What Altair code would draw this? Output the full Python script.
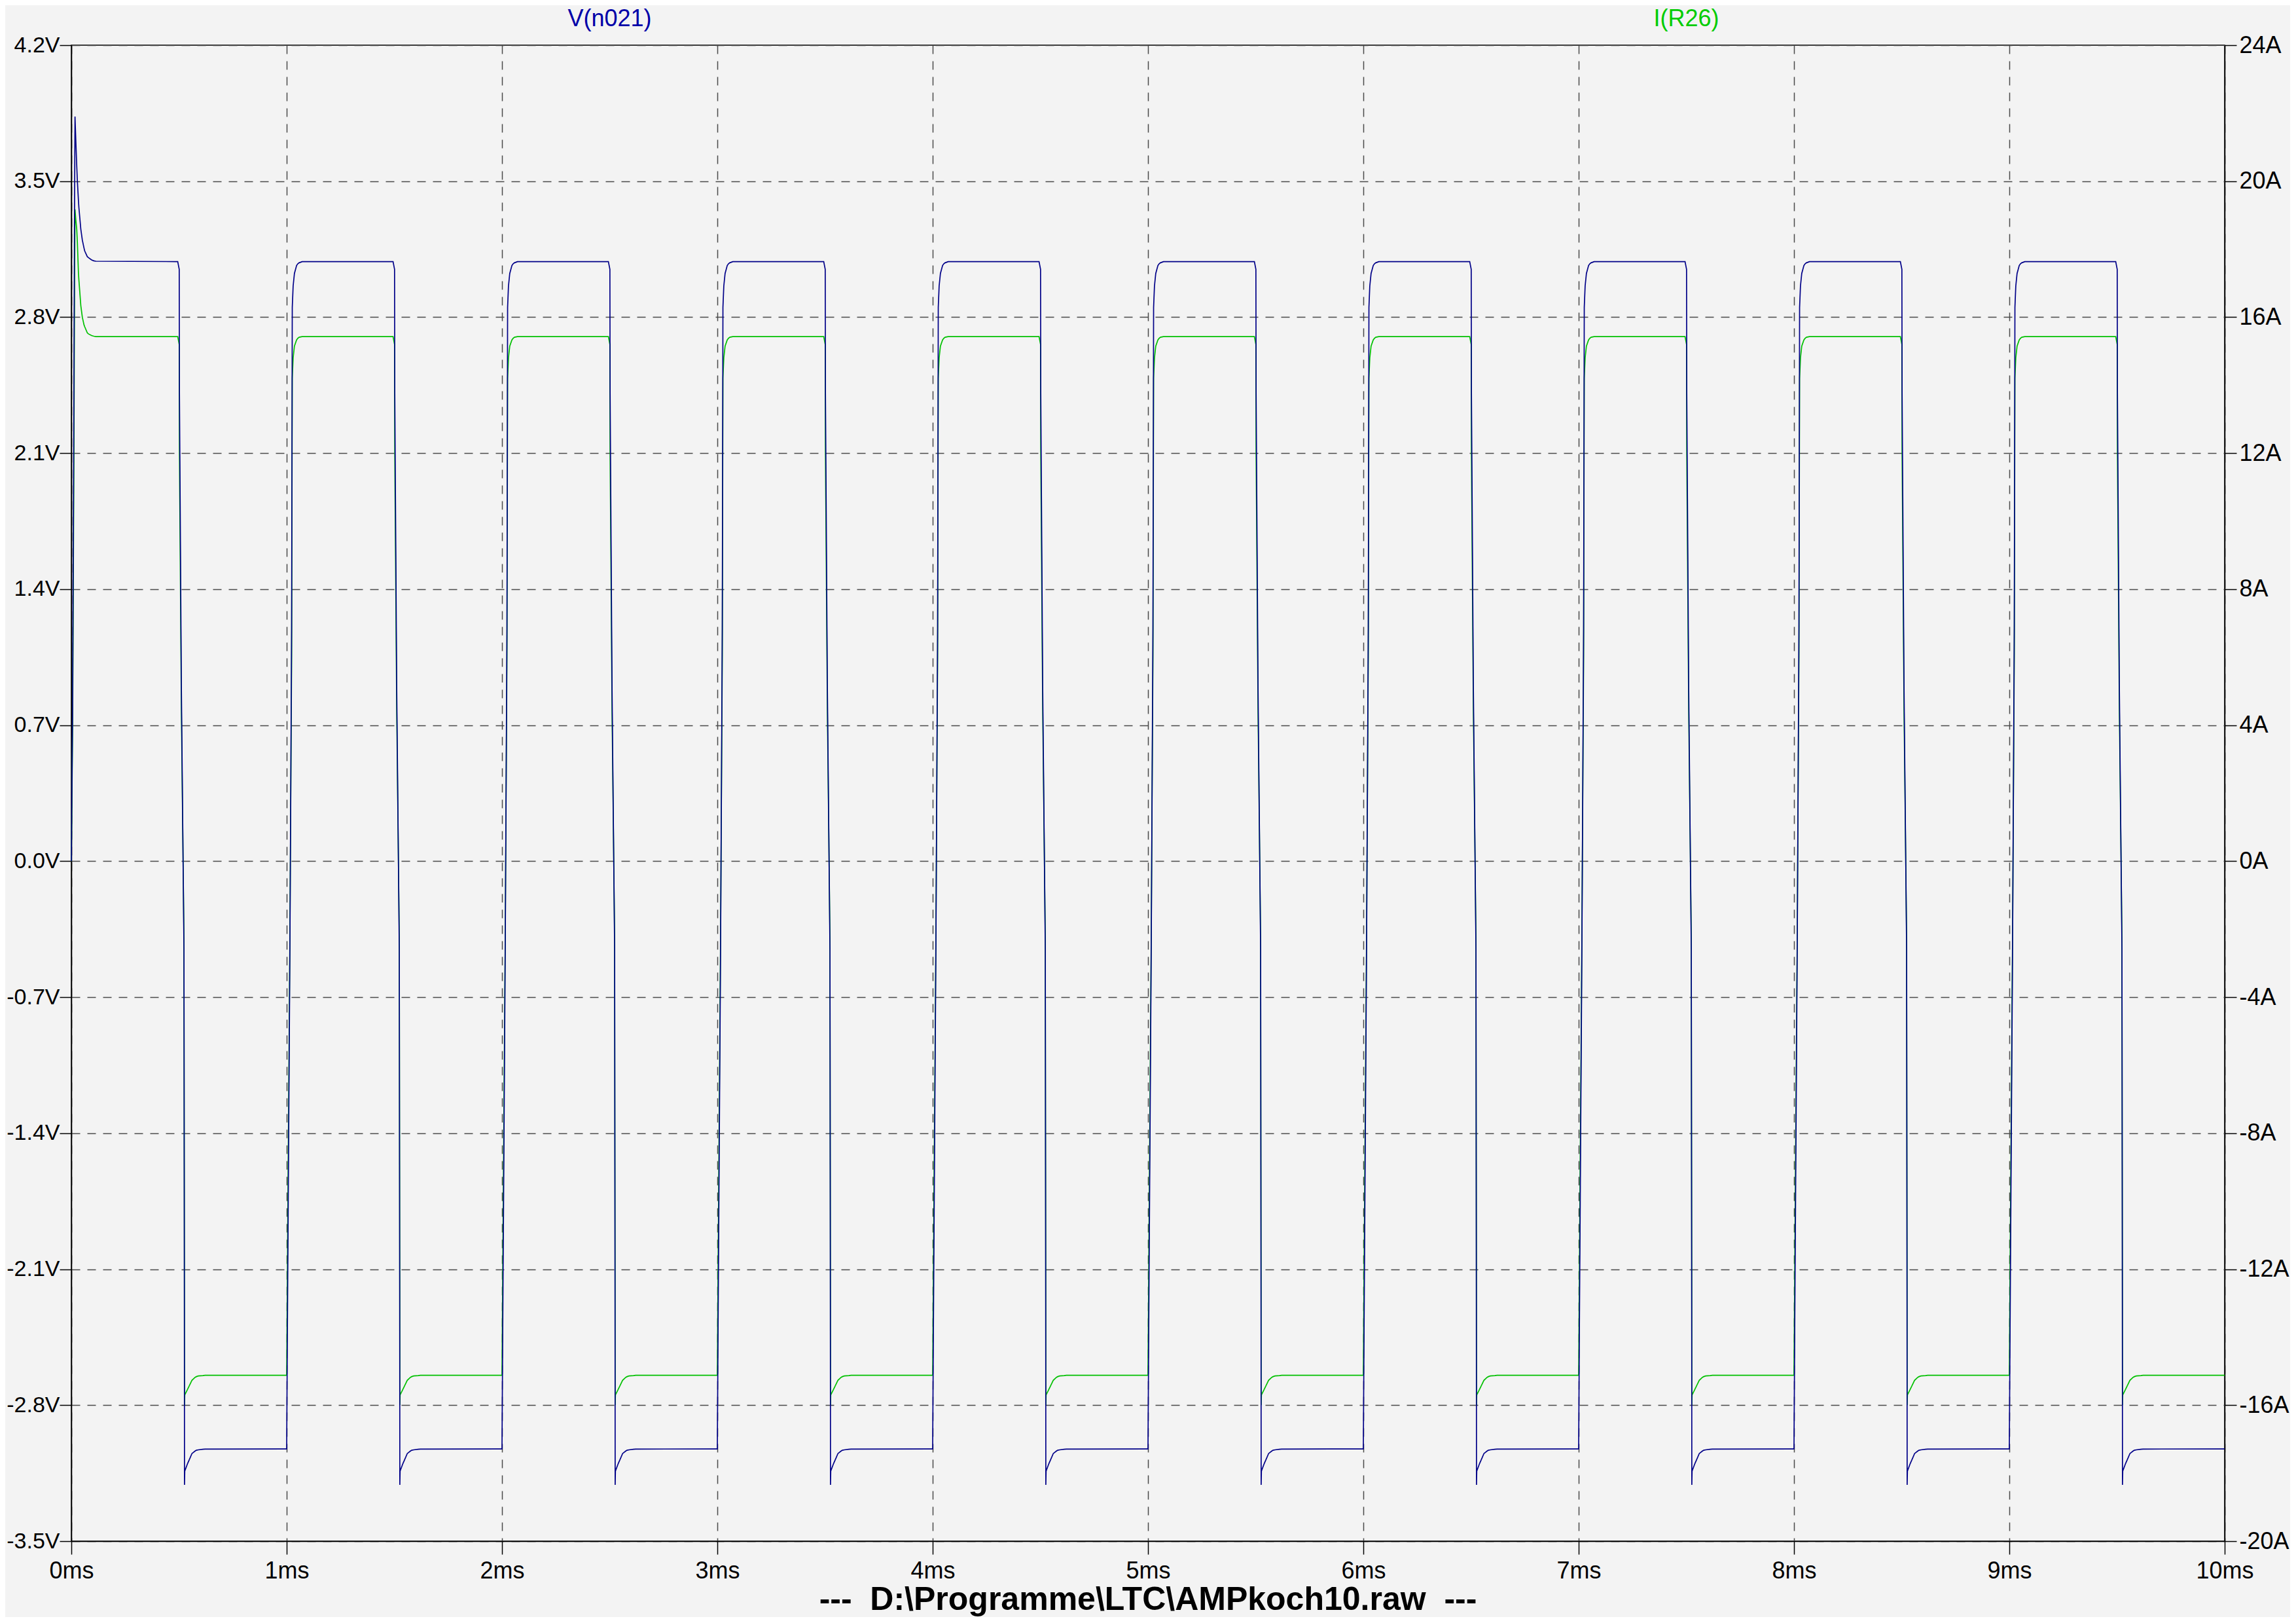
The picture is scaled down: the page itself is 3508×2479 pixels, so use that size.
import altair as alt
import pandas as pd

# ---- values -----------------------------------------------------------
# time axis: ms ; V(n021) in volts (left axis) ; I(R26) in amperes (right axis)
cycle_starts = [0, 1, 2, 3, 4, 5, 6, 7, 8, 9]
end_time = 10.0

# first switch-on (t = 0 .. 0.114 ms) with the start-up overshoot
first_dt = [0.000, 0.006, 0.012, 0.015, 0.017, 0.021, 0.025, 0.028, 0.033, 0.035,
            0.044, 0.051, 0.059, 0.062, 0.074, 0.079, 0.094, 0.104, 0.114]
first_v = [0.00, 0.80, 2.40, 3.40, 3.833, 3.702, 3.58, 3.50, 3.40, 3.365,
           3.253, 3.197, 3.155, 3.141, 3.112, 3.107, 3.095, 3.090, 3.088]
first_i = [0.00, 4.00, 12.00, 17.00, 19.17, 18.85, 18.59, 18.20, 17.30, 17.10,
           16.34, 16.00, 15.77, 15.72, 15.54, 15.51, 15.46, 15.44, 15.43]

# rising edge of the following cycles (offset from cycle start, ms)
rise_dt = [0.000, 0.004, 0.015, 0.023, 0.026, 0.030, 0.036, 0.046, 0.052, 0.058, 0.072]
rise_v = [-3.025, -2.30, -0.45, 1.20, 2.85, 2.96, 3.025, 3.066, 3.075, 3.080, 3.086]
rise_i = [-15.12, -11.50, -2.25, 6.00, 14.20, 14.80, 15.15, 15.33, 15.38, 15.41, 15.43]

# falling edge, undershoot and low plateau (offset from cycle start, ms)
fall_dt = [0.494, 0.501, 0.502, 0.511, 0.523, 0.525, 0.5255, 0.5267, 0.540, 0.550,
           0.560, 0.575, 0.581, 0.590, 0.611, 0.621, 0.995]
fall_v = [3.086, 3.046, 2.41, 0.89, -0.45, -2.30, -3.21, -3.139, -3.100, -3.075,
          -3.049, -3.036, -3.032, -3.030, -3.027, -3.026, -3.025]
fall_i = [15.43, 15.20, 12.00, 4.45, -2.25, -11.50, -16.00, -15.70, -15.53, -15.40,
          -15.27, -15.18, -15.16, -15.14, -15.13, -15.12, -15.12]

end_v = -3.025
end_i = -15.12

v_ticks = [-3.5, -2.8, -2.1, -1.4, -0.7, 0.0, 0.7, 1.4, 2.1, 2.8, 3.5, 4.2]
i_ticks = [-20, -16, -12, -8, -4, 0, 4, 8, 12, 16, 20, 24]
t_ticks = [0, 1, 2, 3, 4, 5, 6, 7, 8, 9, 10]

series_names = ["V(n021)", "I(R26)"]
series_label_t = [2.5, 7.5]
title_text = "---\u00a0\u00a0D:\\Programme\\LTC\\AMPkoch10.raw\u00a0\u00a0---"

# ---- build table -------------------------------------------------------
rows = []
for k in cycle_starts:
    if k == 0:
        seg = zip(first_dt, first_v, first_i)
    else:
        seg = zip(rise_dt, rise_v, rise_i)
    for dt, v, i in seg:
        rows.append((k + dt, v, i))
    for dt, v, i in zip(fall_dt, fall_v, fall_i):
        rows.append((k + dt, v, i))
rows.append((end_time, end_v, end_i))
df = pd.DataFrame(rows, columns=["t", "v", "i"])
df["idx"] = range(len(df))

W, H = 3290, 2285
FONT = "Liberation Sans"
BLUE = "#000088"
GREEN = "#00c000"

x_enc = alt.X(
    "t:Q",
    scale=alt.Scale(domain=[0, 10], nice=False, zero=False),
    axis=alt.Axis(
        values=t_ticks,
        labelExpr="format(datum.value,'d') + 'ms'",
        title=None,
        grid=True,
        tickSize=20,
        labelPadding=8,
        labelFlush=False,
    ),
)

green = alt.Chart(df).mark_line(color=GREEN, strokeWidth=1.7, interpolate="linear").encode(
    x=x_enc,
    y=alt.Y(
        "i:Q",
        scale=alt.Scale(domain=[-20, 24], nice=False, zero=False),
        axis=alt.Axis(
            orient="right",
            values=i_ticks,
            labelExpr="(datum.value < 0 ? '-' : '') + format(abs(datum.value), 'd') + 'A'",
            title=None,
            grid=False,
            tickSize=18,
            labelPadding=4,
            labelFlush=False,
        ),
    ),
    order="idx:Q",
)

blue = alt.Chart(df).mark_line(color=BLUE, strokeWidth=1.7, interpolate="linear").encode(
    x=x_enc,
    y=alt.Y(
        "v:Q",
        scale=alt.Scale(domain=[-3.5, 4.2], nice=False, zero=False),
        axis=alt.Axis(
            orient="left",
            values=v_ticks,
            labelExpr="(datum.value < -0.001 ? '-' : '') + format(abs(datum.value), '.1f') + 'V'",
            title=None,
            grid=True,
            tickSize=18,
            labelPadding=0,
            labelFontSize=34,
            labelFlush=False,
        ),
    ),
    order="idx:Q",
)

labels = alt.Chart(pd.DataFrame({"t": series_label_t, "name": series_names})).mark_text(
    font=FONT, fontSize=36, baseline="alphabetic", align="center"
).encode(
    x=alt.X("t:Q"),
    y=alt.value(-29),
    text="name:N",
    color=alt.Color("name:N", scale=alt.Scale(domain=series_names, range=["#0000a8", "#00cc00"]), legend=None),
)

title = alt.Chart(pd.DataFrame({"label": [title_text]})).mark_text(
    font=FONT, fontSize=50, fontWeight="bold", baseline="alphabetic", align="center", color="black"
).encode(
    x=alt.value(W / 2),
    y=alt.value(H + 105),
    text="label:N",
)

chart = (
    alt.layer(green, blue, labels, title)
    .resolve_scale(y="independent", color="independent")
    .properties(
        width=W,
        height=H,
        background="#f3f3f3",
        padding={"left": 101, "top": 61, "right": 100, "bottom": 116},
        autosize=alt.AutoSizeParams(type="none"),
    )
    .configure_view(stroke="black", strokeWidth=1.5)
    .configure_axis(
        domainColor="black",
        domainWidth=1.5,
        tickColor="black",
        tickWidth=1.5,
        labelFont=FONT,
        labelFontSize=36,
        labelColor="black",
        gridColor="#4a4a4a",
        gridDash=[13, 11],
        gridWidth=1.5,
    )
)

chart.save("out.html", embed_options={"renderer": "svg", "actions": False})
